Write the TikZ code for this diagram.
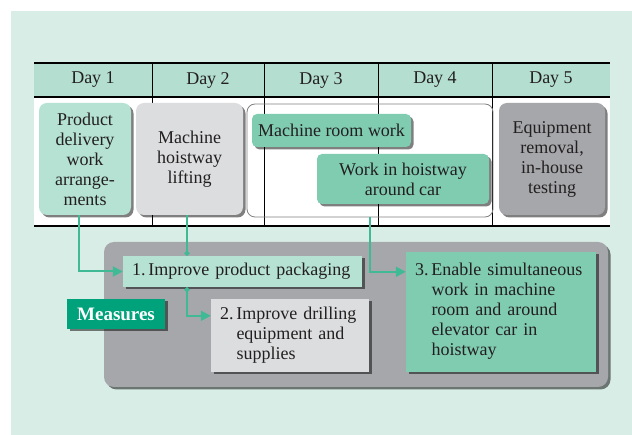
\documentclass[tikz,border=0pt]{standalone}
\usepackage{fontspec}
\setmainfont{Liberation Serif}
\usepackage{xcolor}
\usepackage{tikz}
\usetikzlibrary{arrows.meta,shadows}

\definecolor{bgmint}{HTML}{D8EDE5}
\definecolor{headmint}{HTML}{B4DFD0}
\definecolor{mint}{HTML}{B5E2D3}
\definecolor{lightgray}{HTML}{DCDDDF}
\definecolor{midgreen}{HTML}{7FCCB1}
\definecolor{darkgray}{HTML}{A6A7AB}
\definecolor{measgreen}{HTML}{00A27B}
\definecolor{arrowgreen}{HTML}{40BA95}
\definecolor{textgray}{HTML}{231F20}

\begin{document}
\begin{tikzpicture}[x=1pt,y=-1pt,font=\fontsize{18}{20}\selectfont,text=textgray]
\useasboundingbox (0,0) rectangle (632,435);
\fill[bgmint] (11,11) rectangle (632,435);

% schedule table
\fill[headmint] (34,63) rectangle (610,97);
\fill[white] (34,97) rectangle (610,226);
\foreach \x in {152,264,378,492}
    \draw[line width=1pt] (\x,63) -- (\x,226);
\draw[line width=2.5pt] (34,63) -- (610,63) (34,97) -- (610,97) (34,226) -- (610,226);
\foreach \x/\d in {93/1,208/2,321/3,435/4,551/5}
    \node (day\d) at (\x,80) {Day \d};

\node[draw=gray,line width=0.8pt,rounded corners=8pt,minimum width=246pt,minimum height=113pt] (span) at (370,160.5) {};

\begin{scope}[every node/.style={rounded corners=8pt,align=center,inner sep=2pt,
              drop shadow={shadow xshift=2.5pt,shadow yshift=-2.5pt,fill=black,opacity=0.5}}]
    \node[fill=mint,minimum width=92pt,minimum height=112pt] (prod) at (85,159)
        {Product\\delivery\\work\\arrange-\\ments};
    \node[fill=lightgray,minimum width=107pt,minimum height=112pt] (lift) at (189.5,159)
        {Machine\\hoistway\\lifting};
    \node[fill=midgreen,rounded corners=5pt,minimum width=159pt,minimum height=33pt] (room) at (331.5,130.5)
        {Machine room work};
    \node[fill=midgreen,rounded corners=5pt,minimum width=172pt,minimum height=50pt] (hoist) at (403,179)
        {Work in hoistway\\around car};
    \node[fill=darkgray,minimum width=106pt,minimum height=112pt] (remov) at (552,159)
        {Equipment\\removal,\\in-house\\testing};
\end{scope}

% measures
\node[fill=darkgray,rounded corners=10pt,minimum width=504pt,minimum height=145pt,
      drop shadow={shadow xshift=2.5pt,shadow yshift=-2.5pt,fill=black,opacity=0.5}] (panel) at (356,314.5) {};

\begin{scope}[every node/.style={inner ysep=2pt,inner xsep=9pt,align=left,
              drop shadow={shadow xshift=2.5pt,shadow yshift=-2.5pt,fill=black,opacity=0.5}}]
    \node[fill=mint,text width=221pt,minimum height=31pt] (meas1) at (242.5,271.5)
        {1.\hspace{3pt}Improve product packaging};
    \node[fill=measgreen,text=white,font=\fontsize{19}{20}\selectfont\bfseries,align=center,
          inner xsep=2pt,minimum width=98pt,minimum height=30pt] (measlabel) at (116,314) {Measures};
    \node[fill=lightgray,text width=140pt,minimum height=73pt] (meas2) at (290,335.5)
        {\begin{tabular}{@{}l@{\hspace{3pt}}l@{}}2.&Improve drilling\\&equipment and\\&supplies\end{tabular}};
    \node[fill=midgreen,text width=172pt,minimum height=120pt] (meas3) at (501,312)
        {\begin{tabular}{@{}l@{\hspace{3pt}}l@{}}3.&Enable simultaneous\\&work in machine\\&room and around\\&elevator car in\\&hoistway\end{tabular}};
\end{scope}

\begin{scope}[>={Triangle[length=10pt,width=10pt]},
              every path/.style={draw=arrowgreen,line width=2pt}]
    \coordinate (drop2) at ([xshift=-2.5pt]lift.south);
    \draw[->] ([xshift=-6pt]prod.south) |- (meas1.west);
    \draw[-{Circle[length=5pt]}] (drop2) -- (drop2 |- meas1.north);
    \draw[{Circle[length=5pt]}->] (drop2 |- meas1.south) |- ([yshift=-17pt]meas2.north west);
    \draw[->] (span.south) |- ([yshift=-20pt]meas3.north west);
\end{scope}
\end{tikzpicture}
\end{document}
